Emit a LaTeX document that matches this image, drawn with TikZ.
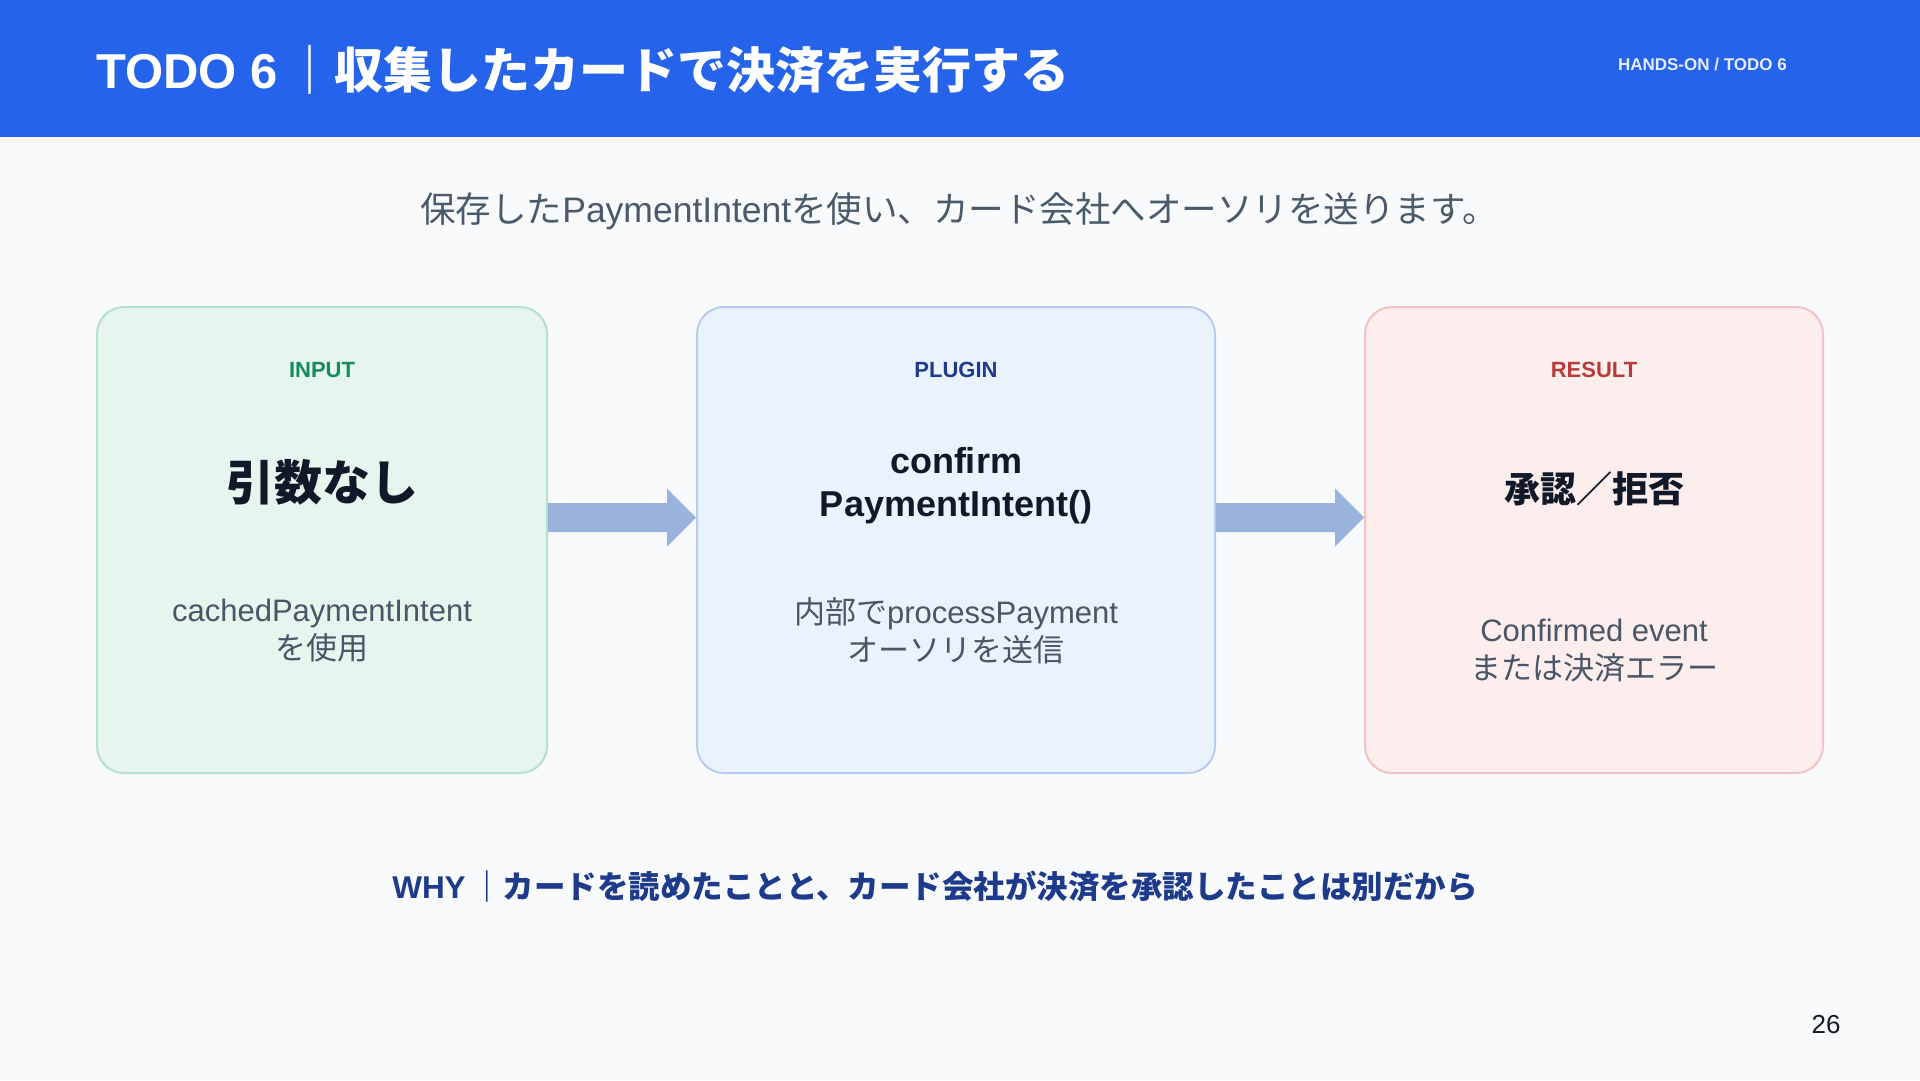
\documentclass[tikz,border=0pt]{standalone}
\usepackage{fontspec}
\setmainfont{Liberation Sans}
\newfontfamily\cjk{Noto Sans CJK JP}
\newcommand\jp[1]{{\cjk #1}}
\usetikzlibrary{calc}
\definecolor{bgc}{HTML}{F8FAFC}
\definecolor{headc}{HTML}{2563EB}
\definecolor{subc}{HTML}{4B5A6B}
\definecolor{descc}{HTML}{4A5566}
\definecolor{darkc}{HTML}{111827}
\definecolor{whyc}{HTML}{1E3A8A}
\definecolor{flowc}{HTML}{9AB3DD}
\definecolor{g1fill}{HTML}{E6F6EF}
\definecolor{g1draw}{HTML}{B5E0CC}
\definecolor{g1lab}{HTML}{148A5E}
\definecolor{b1fill}{HTML}{EAF2FD}
\definecolor{b1draw}{HTML}{B8CCEE}
\definecolor{b1lab}{HTML}{1E3A8A}
\definecolor{r1fill}{HTML}{FDEEEE}
\definecolor{r1draw}{HTML}{F0C4C4}
\definecolor{r1lab}{HTML}{B83B3B}
\tikzset{
  card/.style={draw, line width=2pt, rounded corners=27pt, minimum height=466pt, inner sep=0pt},
  lab/.style={font=\bfseries\fontsize{22}{26}\selectfont},
  mainlab/.style={font=\bfseries\fontsize{36}{43}\selectfont, text=darkc, align=center},
  desc/.style={font=\fontsize{31}{38}\selectfont, text=descc, align=center},
  flow/.style={fill=flowc},
}
\begin{document}
\begin{tikzpicture}[x=1pt,y=-1pt]
\fill[bgc] (0,0) rectangle (1920,1080);
\useasboundingbox (0,0) rectangle (1920,1080);
\fill[headc] (0,0) rectangle (1920,137);
\node[anchor=west, text=white, font=\bfseries\fontsize{49}{58}\selectfont, inner sep=0pt] (title) at (96,70) {TODO 6\,\jp{｜収集したカードで決済を実行する}};
\node[anchor=east, text=white!88!headc, font=\bfseries\fontsize{17}{20}\selectfont, inner sep=0pt] (tag) at (1787,65) {HANDS-ON / TODO 6};
\node[text=subc, font=\fontsize{35.5}{40}\selectfont, inner sep=0pt] (sub) at (959,211) {\jp{保存した}PaymentIntent\jp{を使い、カード会社へオーソリを送ります。}};

\node[card, fill=g1fill, draw=g1draw, minimum width=450pt] (c1) at (322,540) {};
\node[card, fill=b1fill, draw=b1draw, minimum width=518pt] (c2) at (956,540) {};
\node[card, fill=r1fill, draw=r1draw, minimum width=458pt] (c3) at (1594,540) {};

\node[lab, text=g1lab] (l1) at (322,370) {INPUT};
\node[lab, text=b1lab] (l2) at (956,370) {PLUGIN};
\node[lab, text=r1lab] (l3) at (1594,370) {RESULT};

\node[mainlab, font=\bfseries\fontsize{48}{52}\selectfont] (m1) at (322,482) {\jp{引数なし}};
\node[mainlab] (m2) at (956,486) {confirm\\PaymentIntent()};
\node[mainlab] (m3) at (1594,489) {\jp{承認／拒否}};

\node[desc] (d1) at (322,631) {cachedPaymentIntent\\\jp{を使用}};
\node[desc] (d2) at (956,631) {\jp{内部で}processPayment\\\jp{オーソリを送信}};
\node[desc] (d3) at (1594,651) {Confirmed event\\\jp{または決済エラー}};

\fill[flow] ($(c1.east)+(0,-37)$) -- ($(c2.west)+(-29,-37)$) -- ($(c2.west)+(-29,-51.5)$) -- ($(c2.west)+(0,-22.5)$) -- ($(c2.west)+(-29,6.5)$) -- ($(c2.west)+(-29,-8)$) -- ($(c1.east)+(0,-8)$) -- cycle;
\fill[flow] ($(c2.east)+(0,-37)$) -- ($(c3.west)+(-29,-37)$) -- ($(c3.west)+(-29,-51.5)$) -- ($(c3.west)+(0,-22.5)$) -- ($(c3.west)+(-29,6.5)$) -- ($(c3.west)+(-29,-8)$) -- ($(c2.east)+(0,-8)$) -- cycle;

\node[text=whyc, font=\bfseries\fontsize{31.5}{36}\selectfont, inner sep=0pt] (why) at (935,887) {WHY\,\jp{｜カードを読めたことと、カード会社が決済を承認したことは別だから}};
\node[text=darkc, font=\fontsize{26}{30}\selectfont, inner sep=0pt] (pg) at (1826,1025) {26};
\end{tikzpicture}
\end{document}
